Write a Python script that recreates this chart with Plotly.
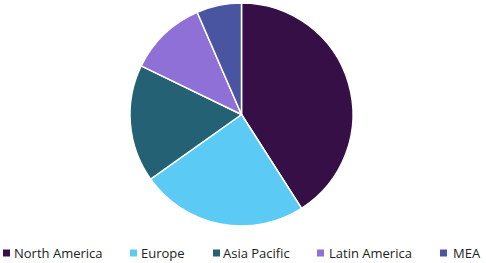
import plotly.graph_objects as go

regions = ["North America", "Europe", "Asia Pacific", "Latin America", "MEA"]
shares = [40.9, 24.2, 17.0, 11.3, 6.5]
colors = ["#350F46", "#5BCBF5", "#246175", "#8E70D6", "#4A55A2"]

W, H = 486, 263
# legend layout (pixel positions of marker left edges and text starts)
leg_marker_x = [3, 130, 213, 317, 440]
leg_text_x = [13, 139.5, 222, 327.5, 451.5]
leg_y = 253

fig = go.Figure()
fig.add_trace(go.Pie(
    labels=regions, values=shares, sort=False, direction="clockwise", rotation=0,
    marker=dict(colors=colors, line=dict(color="white", width=1.5)),
    textinfo="none", hoverinfo="label+percent", showlegend=False,
    domain=dict(x=[130 / W, 353 / W], y=[1 - 226 / H, 1 - 3 / H]),
))

shapes, annotations = [], []
for r, c, mx, tx in zip(regions, colors, leg_marker_x, leg_text_x):
    shapes.append(dict(type="rect", xref="paper", yref="paper",
                       x0=mx / W, x1=(mx + 7) / W,
                       y0=1 - (leg_y + 3.5) / H, y1=1 - (leg_y - 3.5) / H,
                       fillcolor=c, line=dict(width=0)))
    annotations.append(dict(text=r, xref="paper", yref="paper",
                            x=(tx - 1) / W, y=1 - leg_y / H,
                            xanchor="left", yanchor="middle", showarrow=False,
                            font=dict(family="Open Sans", size=13, color="#222")))

fig.update_layout(
    width=W, height=H, margin=dict(l=0, r=0, t=0, b=0),
    paper_bgcolor="white", plot_bgcolor="white",
    showlegend=False, shapes=shapes, annotations=annotations,
    font=dict(family="Open Sans", size=13, color="#222"),
)
fig.write_html("out.html")
